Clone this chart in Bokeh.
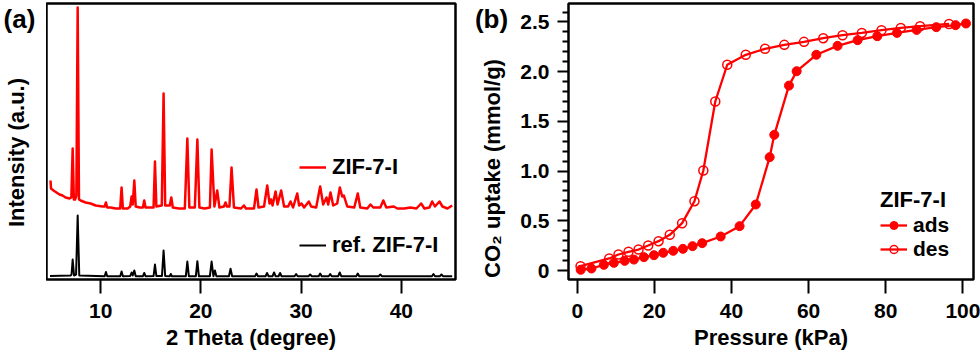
from math import pi
from bokeh.plotting import figure
from bokeh.layouts import row
from bokeh.models import FixedTicker, Legend, LegendItem, Label, PrintfTickFormatter
from bokeh.embed import file_html
from bokeh.resources import INLINE

FONT = "Liberation Sans"
RED = "#ff0000"
H = 357
FRAME_TOP = 3
FRAME_H = 276
FRAME_BOTTOM = FRAME_TOP + FRAME_H

# ---------------- panel (a): PXRD ----------------
sample_2theta = [5.00, 5.05, 5.3, 5.6, 5.9, 6.2, 6.5, 6.9, 7.08, 7.21, 7.33, 7.45, 7.58, 7.71, 7.84,
                 8.0, 8.5, 9.0, 9.5, 10.2, 10.4, 10.53, 10.66, 11.0, 11.5, 11.95, 12.09, 12.22, 12.7,
                 12.95, 13.09, 13.2, 13.36, 13.5, 13.9, 14.22, 14.35, 14.48, 15.0, 15.28, 15.42, 15.56,
                 16.1, 16.28, 16.44, 16.9, 17.05, 17.2, 17.8, 18.4, 18.65, 18.85, 19.4, 19.65, 19.85,
                 20.4, 20.9, 21.07, 21.35, 21.63, 21.85, 22.3, 22.46, 22.6, 22.85, 23.06, 23.3, 24.0,
                 24.29, 24.5, 25.3, 25.55, 25.75, 26.3, 26.62, 26.85, 27.0, 27.15, 27.45, 27.65, 28.01,
                 28.3, 28.7, 28.94, 29.2, 29.61, 29.8, 30.04, 30.3, 30.77, 31.0, 31.5, 31.9, 32.2,
                 32.53, 32.7, 32.93, 33.2, 33.6, 33.86, 34.1, 34.26, 34.6, 35.3, 35.65, 35.9, 36.6,
                 36.92, 37.2, 37.9, 38.2, 38.5, 39.25, 39.6, 40.3, 40.9, 41.5, 41.97, 42.3, 42.8,
                 43.07, 43.35, 43.8, 44.1, 44.6, 45.07]
sample_intensity = [99, 91, 89, 87, 85, 84, 82, 81, 82, 131, 80, 80, 84, 272, 80,
                    79, 77, 76, 74, 73, 73, 77, 72, 72, 71, 71, 92, 71, 71,
                    73, 83, 75, 99, 73, 72, 72, 79, 72, 72, 72, 118, 73,
                    74, 186, 74, 74, 82, 72, 71, 71, 141, 72, 72, 140, 72,
                    71, 72, 130, 73, 89, 72, 73, 77, 73, 73, 112, 72, 71,
                    74, 71, 71, 90, 72, 73, 94, 76, 80, 74, 88, 75, 89,
                    73, 73, 78, 72, 86, 74, 76, 72, 78, 73, 72, 93, 75,
                    82, 75, 87, 74, 76, 92, 83, 84, 73, 72, 86, 72, 71,
                    75, 72, 72, 79, 72, 73, 71, 71, 72, 71, 76, 71, 72,
                    78, 73, 78, 73, 71, 74]

ref_2theta = [4.95, 7.0, 7.1, 7.21, 7.35, 7.55, 7.71, 7.87, 10.4, 10.53, 10.66, 11.95, 12.09, 12.22,
              12.95, 13.09, 13.2, 13.36, 13.5, 14.22, 14.35, 14.48, 15.28, 15.42, 15.56, 16.12,
              16.28, 16.44, 16.9, 17.0, 17.1, 18.5, 18.65, 18.8, 19.5, 19.65, 19.8, 20.9, 21.07,
              21.25, 21.4, 21.55, 22.8, 22.96, 23.12, 25.4, 25.55, 25.7, 26.45, 26.6, 26.75,
              27.15, 27.3, 27.45, 27.75, 27.9, 28.05, 29.35, 29.5, 29.65, 30.75, 30.9, 31.05,
              31.75, 31.9, 32.05, 32.75, 32.9, 33.05, 33.7, 33.85, 34.0, 35.5, 35.65, 35.8,
              37.75, 37.9, 38.05, 43.05, 43.2, 43.35, 43.85, 44.0, 44.15, 45.07]
ref_intensity = [3.5, 4, 5, 20, 4, 5, 64, 4, 3.3, 7.5, 3.3, 3.3, 8, 3.3,
                 3.5, 7, 4, 9, 3.3, 3.3, 6.5, 3.3, 3.5, 15, 3.5, 3.5,
                 29, 3.5, 3.3, 5.5, 3.3, 3.3, 18, 3.3, 3.3, 18.3, 3.3, 3.3, 18,
                 3.3, 9, 3.3, 3.3, 10.7, 3.3, 3.3, 6, 3.3, 3.3, 6.5, 3.3,
                 3.3, 7, 3.3, 3.3, 6.5, 3.3, 3.3, 5.5, 3.3, 3.3, 5, 3.3,
                 3.3, 6, 3.3, 3.3, 5.5, 3.3, 3.3, 7, 3.3, 3.3, 6, 3.3,
                 3.3, 5, 3.3, 3.3, 5.5, 3.3, 3.3, 5, 3.3, 3.3]

two_theta_ticks = [10, 20, 30, 40]

# ---------------- panel (b): CO2 isotherm ----------------
pressure_ads = [0.9, 3.7, 6.9, 9.5, 12.3, 14.7, 17.3, 19.9, 22.3, 24.9, 27.4, 29.9, 32.4, 37.2,
                42.1, 46.3, 49.9, 51.1, 54.9, 56.9, 62.0, 67.5, 72.7, 77.8, 82.9, 88.0, 93.1,
                98.1, 100.8]
uptake_ads = [0.007, 0.02, 0.057, 0.077, 0.097, 0.11, 0.134, 0.154, 0.178, 0.198, 0.218, 0.245,
              0.275, 0.342, 0.446, 0.664, 1.14, 1.365, 1.86, 2.005, 2.17, 2.26, 2.317, 2.357,
              2.39, 2.42, 2.448, 2.468, 2.485]
pressure_des = [96.4, 88.9, 83.9, 78.9, 73.8, 68.8, 63.8, 58.8, 53.7, 48.7, 43.7, 38.9, 35.8,
                32.7, 30.4, 27.2, 24.0, 21.1, 18.4, 15.9, 13.3, 10.7, 8.3, 0.86]
uptake_des = [2.48, 2.458, 2.44, 2.418, 2.39, 2.367, 2.337, 2.30, 2.27, 2.23, 2.17, 2.07, 1.70,
              1.006, 0.697, 0.476, 0.359, 0.295, 0.251, 0.211, 0.188, 0.161, 0.121, 0.043]

pressure_ticks = [0, 20, 40, 60, 80, 100]
uptake_ticks = [0, 0.5, 1.0, 1.5, 2.0, 2.5]
uptake_minor_ticks = [0.1, 0.2, 0.3, 0.4, 0.6, 0.7, 0.8, 0.9, 1.1, 1.2, 1.3, 1.4, 1.6, 1.7,
                      1.8, 1.9, 2.1, 2.2, 2.3, 2.4, 2.6]


def style_common(p):
    p.grid.visible = False
    p.outline_line_color = "black"
    p.outline_line_width = 2.5
    p.background_fill_color = "white"
    p.border_fill_color = "white"


def style_axis(ax, tick_out=14):
    ax.axis_line_color = None
    ax.major_tick_in = 0
    ax.major_tick_out = tick_out
    ax.major_tick_line_width = 2
    ax.major_tick_line_color = "black"
    ax.minor_tick_line_color = None
    ax.major_label_text_font = FONT
    ax.major_label_text_font_size = "21px"
    ax.major_label_text_font_style = "bold"
    ax.major_label_text_color = "black"
    ax.axis_label_text_font = FONT
    ax.axis_label_text_font_size = "22px"
    ax.axis_label_text_font_style = "bold"
    ax.axis_label_text_color = "black"


def text_strip(width):
    s = figure(width=width, height=H, frame_height=FRAME_H, x_range=(0, 1), y_range=(0, 1),
               output_backend="svg", toolbar_location=None, x_axis_location=None,
               y_axis_location=None, min_border_left=0, min_border_right=0,
               min_border_top=FRAME_TOP, min_border_bottom=H - FRAME_BOTTOM,
               outline_line_color=None)
    s.grid.visible = False
    s.background_fill_color = "white"
    s.border_fill_color = "white"
    return s


def text_label(p, x, y_page, text, angle=0.0, size="22px"):
    # y_page: distance from the top of the canvas; converted to frame-bottom based screen units
    p.add_layout(Label(x=x, y=FRAME_BOTTOM - y_page, x_units="screen", y_units="screen",
                       text=text, angle=angle, text_align="center", text_baseline="middle",
                       text_font=FONT, text_font_size=size, text_font_style="bold",
                       text_color="black"))


def style_legend(leg, size="22px"):
    leg.background_fill_alpha = 0
    leg.border_line_color = None
    leg.padding = 0
    leg.margin = 0
    leg.spacing = 0
    leg.glyph_width = 27
    leg.glyph_height = 20
    leg.label_standoff = 6
    leg.label_text_font = FONT
    leg.label_text_font_size = size
    leg.label_text_font_style = "bold"
    leg.label_text_color = "black"


# ---------- left text strip for (a) ----------
strip_a = text_strip(46)
text_label(strip_a, 19, 18, "(a)", size="26px")
text_label(strip_a, 16, 152, "Intensity (a.u.)", angle=pi / 2)

# ---------- figure (a) ----------
p1 = figure(frame_width=409, frame_height=FRAME_H, x_range=(4.6, 45.4), y_range=(0, 276),
            output_backend="svg", toolbar_location=None, y_axis_location=None,
            min_border_left=0, min_border_right=15, min_border_top=FRAME_TOP,
            min_border_bottom=H - FRAME_BOTTOM)
style_common(p1)
ax = p1.xaxis[0]
ax.ticker = FixedTicker(ticks=two_theta_ticks)
style_axis(ax)
ax.major_label_standoff = 10
ax.axis_label = "2 Theta (degree)"
ax.axis_label_standoff = 4

r_sample = p1.line(sample_2theta, sample_intensity, line_color=RED, line_width=2.5, line_join="round")
r_ref = p1.line(ref_2theta, ref_intensity, line_color="black", line_width=2, line_join="round")

leg_a1 = Legend(items=[LegendItem(label="ZIF-7-I", renderers=[r_sample])], location=(253, 99))
leg_a2 = Legend(items=[LegendItem(label="ref. ZIF-7-I", renderers=[r_ref])], location=(253, 21))
for lg in (leg_a1, leg_a2):
    style_legend(lg)
    p1.add_layout(lg)

# ---------- left text strip for (b) ----------
strip_b = text_strip(40)
text_label(strip_b, 21, 18, "(b)", size="26px")
text_label(strip_b, 22, 168, "CO\u2082 uptake (mmol/g)", angle=pi / 2)

# ---------- figure (b) ----------
p2 = figure(frame_width=405, frame_height=FRAME_H, x_range=(-2.26, 102.75), y_range=(-0.0905, 2.686),
            output_backend="svg", toolbar_location=None,
            min_border_left=58, min_border_right=7, min_border_top=FRAME_TOP,
            min_border_bottom=H - FRAME_BOTTOM)
style_common(p2)
bx = p2.xaxis[0]
bx.ticker = FixedTicker(ticks=pressure_ticks)
style_axis(bx)
bx.major_label_standoff = 10
bx.axis_label = "Pressure (kPa)"
bx.axis_label_standoff = 4

by = p2.yaxis[0]
by.ticker = FixedTicker(ticks=uptake_ticks, minor_ticks=uptake_minor_ticks)
by.formatter = PrintfTickFormatter(format="%.1f")
style_axis(by, tick_out=11)
by.minor_tick_line_color = "black"
by.minor_tick_line_width = 2
by.minor_tick_in = 0
by.minor_tick_out = 6
by.major_label_standoff = 8
by.major_label_overrides = {0: "0"}

r_des_line = p2.line(pressure_des, uptake_des, line_color=RED, line_width=2.3)
r_des_pts = p2.scatter(pressure_des, uptake_des, marker="circle", size=9, fill_color=None,
                       line_color=RED, line_width=1.5)
r_ads_line = p2.line(pressure_ads, uptake_ads, line_color=RED, line_width=2.3)
r_ads_pts = p2.scatter(pressure_ads, uptake_ads, marker="circle", size=9, fill_color=RED,
                       line_color=RED, line_width=1)

leg_b = Legend(items=[LegendItem(label="ads", renderers=[r_ads_line, r_ads_pts]),
                      LegendItem(label="des", renderers=[r_des_line, r_des_pts])],
               location=(312, 18), title="ZIF-7-I")
style_legend(leg_b, size="21px")
leg_b.spacing = -3
leg_b.title_text_font = FONT
leg_b.title_text_font_size = "22px"
leg_b.title_text_font_style = "bold"
leg_b.title_text_color = "black"
leg_b.title_standoff = -4
p2.add_layout(leg_b)

layout = row(strip_a, p1, strip_b, p2)
open("out.html", "w").write(file_html(layout, INLINE))
